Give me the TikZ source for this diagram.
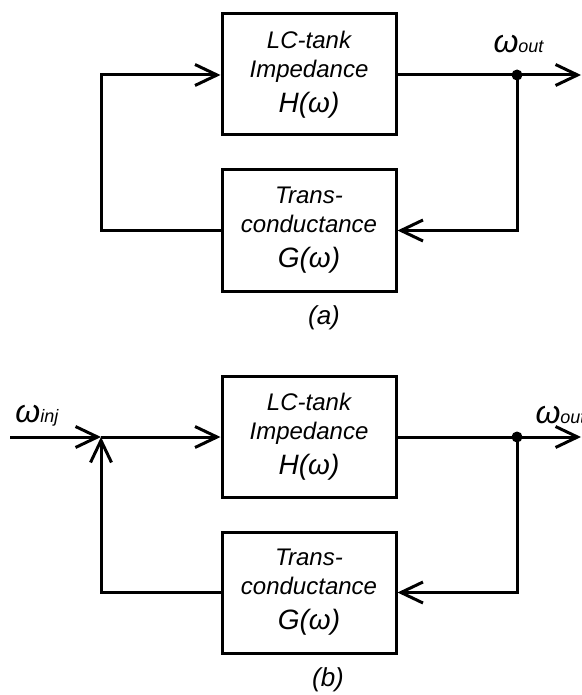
\documentclass[tikz,border=0pt]{standalone}
\usepackage{fontspec}
\setmainfont{Liberation Sans}
\usepackage{tikz}
\usetikzlibrary{arrows.meta}

\begin{document}
\begin{tikzpicture}[
	x=0.5pt, y=-0.5pt,
	line width=1.5pt,
	block/.style={
		draw,
		line width=1.5pt,
		align=center,
		inner sep=0pt,
		minimum width=87pt,
		minimum height=60.5pt,
		font=\fontsize{12}{14.5}\selectfont\itshape
	},
	arrow/.style={
		-{Straight Barb[length=11pt,width=10.5pt,line cap=butt]}
	},
	freq/.style={
		anchor=base west,
		inner sep=0pt,
		font=\itshape
	},
	caption/.style={
		font=\fontsize{13}{15}\selectfont\itshape
	}
	]
	\useasboundingbox (0,0) rectangle (582,695);
	
	% (a) free-running oscillator
	\node[block] (tank_a) at (309,74.5)
	{LC-tank\\Impedance\\[3pt]{\fontsize{14}{17}\selectfont H(ω)}};
	
	\node[block] (gm_a) at (309,230.5)
	{Trans-\\conductance\\[3pt]{\fontsize{14}{17}\selectfont G(ω)}};
	
	\coordinate (tap_a) at (517,75);
	\coordinate (out_a) at (581,75);
	\coordinate (loop_a) at (101,230.5);
	
	\node[freq] (wout_a) at (492,53)
	{{\fontsize{16}{16}\selectfont ω}{\fontsize{9}{9}\selectfont out}};
	
	\node[caption] (label_a) at (324,318) {(a)};
	
	% (b) injection-locked oscillator
	\node[block] (tank_b) at (309,437)
	{LC-tank\\Impedance\\[3pt]{\fontsize{14}{17}\selectfont H(ω)}};
	
	\node[block] (gm_b) at (309,592.5)
	{Trans-\\conductance\\[3pt]{\fontsize{14}{17}\selectfont G(ω)}};
	
	\coordinate (in_b) at (10,437);
	\coordinate (sum_b) at (101,437);
	\coordinate (tap_b) at (517,437);
	\coordinate (out_b) at (581,437);
	
	\node[freq] (winj_b) at (14,422)
	{{\fontsize{16}{16}\selectfont ω}{\fontsize{9}{9}\selectfont inj}};
	
	\node[freq] (wout_b) at (534,423)
	{{\fontsize{16}{16}\selectfont ω}{\fontsize{9}{9}\selectfont out}};
	
	\node[caption] (label_b) at (328,680) {(b)};
	
	% Arrows (a)
	\draw[arrow] (tank_a.east |- tap_a) -- (out_a);
	\fill (tap_a) circle (5.5);
	\draw[arrow] (tap_a) |- (gm_a.east);
	\draw[arrow] (gm_a.west) -- (loop_a) |- (tank_a.west |- tap_a);
	
	% Arrows (b)
	\draw[arrow] (in_b) -- (sum_b);
	\draw[arrow] (sum_b) -- (tank_b.west);
	\draw[arrow] (gm_b.west) -| (sum_b);
	\draw[arrow] (tank_b.east) -- (out_b);
	\fill (tap_b) circle (5.5);
	\draw[arrow] (tap_b) |- (gm_b.east);
	
\end{tikzpicture}
\end{document}
